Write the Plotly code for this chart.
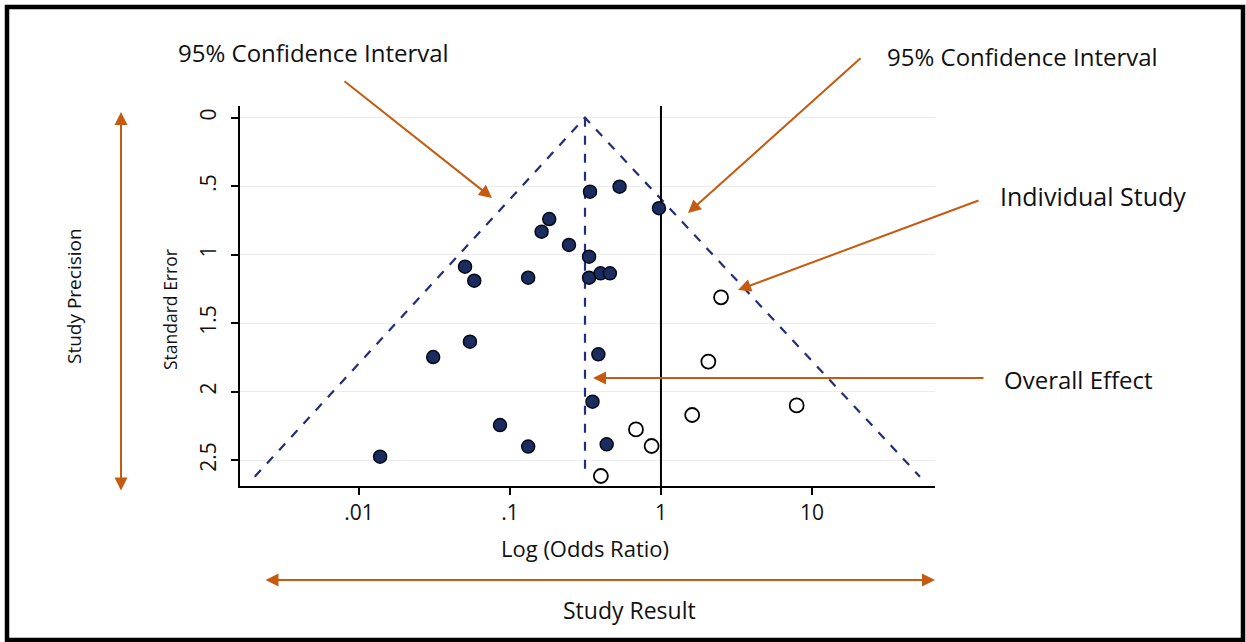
import plotly.graph_objects as go

# ---------------- data ----------------
# filled studies: odds ratio and standard error
filled_or = [0.339, 0.532, 0.97, 0.182, 0.162, 0.246, 0.334, 0.0504, 0.058, 0.132,
             0.334, 0.398, 0.459, 0.0543, 0.031, 0.385, 0.352, 0.0859, 0.132, 0.437, 0.0138]
filled_se = [0.54, 0.504, 0.661, 0.74, 0.832, 0.929, 1.015, 1.088, 1.19, 1.168,
             1.168, 1.136, 1.136, 1.635, 1.747, 1.727, 2.073, 2.243, 2.40, 2.384, 2.474]
# imputed (open) studies
open_or = [2.50, 2.06, 1.61, 0.683, 0.867, 0.40, 7.92]
open_se = [1.311, 1.78, 2.17, 2.275, 2.396, 2.615, 2.10]
# funnel (pseudo 95% CI) vertices
funnel_or = [0.00204, 0.314, 51.9]
funnel_se = [2.62, 0.0, 2.62]
# overall effect line
overall_or = [0.314, 0.314]
overall_se = [0.0, 2.57]
# null line
null_or = [1, 1]
null_se = [-0.2, 2.8]

x_tickvals = [0.01, 0.1, 1, 10]
x_ticktext = [".01", ".1", "1", "10"]
y_tickvals = [0, 0.5, 1, 1.5, 2, 2.5]
y_ticktext = ["0", ".5", "1", "1.5", "2", "2.5"]

# ---------------- layout geometry ----------------
W, H = 1246, 642
L, R, T, B = 240, 935, 106, 486  # plot area in pixels


def px(x):
    return (x - L) / (R - L)


def py(y):
    return (B - y) / (B - T)


ORANGE = "#C55A11"
NAVY = "#232d78"
FONT = "Open Sans"
TXT = "#111111"

fig = go.Figure()

fig.add_trace(go.Scatter(x=funnel_or, y=funnel_se, mode="lines",
                         line=dict(color=NAVY, width=2.2, dash="dash"), hoverinfo="skip"))
fig.add_trace(go.Scatter(x=overall_or, y=overall_se, mode="lines",
                         line=dict(color=NAVY, width=2.2, dash="dash"), hoverinfo="skip"))
fig.add_trace(go.Scatter(x=null_or, y=null_se, mode="lines",
                         line=dict(color="black", width=2), hoverinfo="skip"))
fig.add_trace(go.Scatter(x=filled_or, y=filled_se, mode="markers",
                         marker=dict(size=13, color="#1b2c5e",
                                     line=dict(color="#050a1a", width=1.5))))
fig.add_trace(go.Scatter(x=open_or, y=open_se, mode="markers",
                         marker=dict(size=14, color="white",
                                     line=dict(color="black", width=1.8))))

fig.update_layout(
    width=W, height=H,
    margin=dict(l=L, r=W - R, t=T, b=H - B),
    paper_bgcolor="white", plot_bgcolor="white",
    showlegend=False,
    font=dict(family=FONT, color=TXT),
    xaxis=dict(type="log", range=[-2.788, 1.815], tickvals=x_tickvals, ticktext=x_ticktext,
               showgrid=False, zeroline=False, showline=True, linecolor="black", linewidth=2,
               ticks="outside", ticklen=7, tickwidth=2, tickcolor="black",
               tickfont=dict(size=21, family=FONT, color=TXT)),
    yaxis=dict(range=[2.688, -0.085], tickvals=y_tickvals, ticktext=y_ticktext,
               showgrid=True, gridcolor="#ececec", gridwidth=1, zeroline=False,
               showline=True, linecolor="black", linewidth=2,
               ticks="outside", ticklen=7, tickwidth=2, tickcolor="black", tickangle=-90,
               ticklabelstandoff=7,
               tickfont=dict(size=21, family=FONT, color=TXT)),
)

# frame
fig.add_shape(type="rect", xref="paper", yref="paper",
              x0=px(7), x1=px(1243), y0=py(640), y1=py(7),
              line=dict(color="black", width=4.5), fillcolor="rgba(0,0,0,0)", layer="above")


def text(s, x, y, size, angle=0):
    fig.add_annotation(text=s, x=px(x), y=py(y), xref="paper", yref="paper",
                       showarrow=False, xanchor="center", yanchor="middle",
                       textangle=angle, font=dict(size=size, family=FONT, color=TXT))


def arrow(tail, head, both=False):
    fig.add_annotation(text="", x=px(head[0]), y=py(head[1]), xref="paper", yref="paper",
                       ax=tail[0] - head[0], ay=tail[1] - head[1], axref="pixel", ayref="pixel",
                       showarrow=True, arrowhead=2, startarrowhead=2, arrowsize=1.3,
                       startarrowsize=1.3, arrowwidth=2, arrowcolor=ORANGE,
                       arrowside="end+start" if both else "end", standoff=0, startstandoff=0)


text("95% Confidence Interval", 313, 52, 24)
text("95% Confidence Interval", 1022, 57, 24)
text("Individual Study", 1093, 196, 25)
text("Overall Effect", 1078, 379, 24)
text("Study Result", 629, 610, 23)
text("Log (Odds Ratio)", 585, 548, 22)
text("Study Precision", 74, 296, 19, -90)
text("Standard Error", 170, 310, 17.5, -90)

arrow((343, 80), (492, 198))
arrow((862, 57), (688, 213))
arrow((980, 200), (738, 290))
arrow((985, 378), (593, 378))
arrow((121, 492), (121, 112), both=True)
arrow((264, 580), (935, 580), both=True)

fig.write_html("out.html")
